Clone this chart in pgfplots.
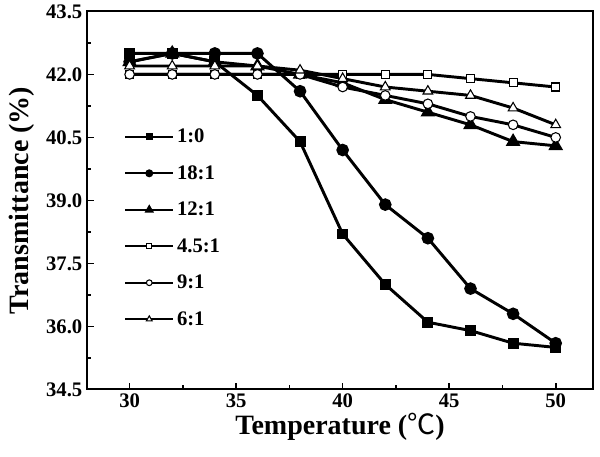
\documentclass[border=0pt]{standalone}
\usepackage{pgfplots}
\pgfplotsset{compat=1.18}
\usepackage{fontspec}
\setmainfont{Liberation Serif}
\newfontfamily\cjk{Noto Sans CJK SC}
\begin{document}
\begin{tikzpicture}
\begin{axis}[
  name=ax,
  scale only axis,
  width=379.5pt, height=283.5pt,
  xmin=28, xmax=51.75, ymin=34.5, ymax=43.5,
  xtick={30,35,...,50}, minor xtick={32.5,37.5,42.5,47.5},
  ytick={34.5,36,...,43.5}, minor ytick={35.25,36.75,38.25,39.75,41.25,42.75},
  yticklabel style={/pgf/number format/.cd,fixed,fixed zerofill,precision=1},
  /pgf/number format/assume math mode=true,
  tick label style={font=\fontsize{15.5}{17}\selectfont\bfseries},
  xtick pos=bottom, ytick pos=left, tick align=inside,
  major tick length=5pt, minor tick length=3pt,
  every tick/.style={line width=1.2pt,black},
  axis line style={line width=1.5pt},
  xlabel={\fontsize{21}{23}\selectfont\bfseries Temperature ({\cjk\mdseries ℃})},
  ylabel={\fontsize{21}{23}\selectfont\bfseries Transmittance (\%)},
  xlabel style={yshift=3pt},
  ylabel style={yshift=2pt},
  every axis plot/.append style={black, line width=2.2pt},
  legend style={draw=none, fill=none, at={(0.073,0.697)}, anchor=north west,
    font=\fontsize{15.5}{17}\selectfont\bfseries, row sep=11.6pt, inner sep=0pt,
    cells={anchor=west}},
  legend image code/.code={\draw[line width=1.6pt,mark repeat=2,mark phase=2,every mark/.append style={scale=0.6}] plot coordinates {(0pt,0pt) (18pt,0pt) (36pt,0pt)};},
]
\addplot[mark=square*, mark size=3pt, mark options={solid,fill=black}] coordinates {
(30,42.5)(32,42.5)(34,42.3)(36,41.5)(38,40.4)(40,38.2)(42,37.0)(44,36.1)(46,35.9)(48,35.6)(50,35.5)};
\addlegendentry{1:0}
\addplot[mark=*, mark size=3.6pt, mark options={solid,fill=black}] coordinates {
(30,42.3)(32,42.5)(34,42.5)(36,42.5)(38,41.6)(40,40.2)(42,38.9)(44,38.1)(46,36.9)(48,36.3)(50,35.6)};
\addlegendentry{18:1}
\addplot[mark=triangle*, mark size=4.2pt, mark options={solid,fill=black}] coordinates {
(30,42.3)(32,42.5)(34,42.3)(36,42.2)(38,42.0)(40,41.8)(42,41.4)(44,41.1)(46,40.8)(48,40.4)(50,40.3)};
\addlegendentry{12:1}
\addplot[mark=square*, mark size=3pt, mark options={solid,fill=white,line width=0.8pt}] coordinates {
(30,42.0)(32,42.0)(34,42.0)(36,42.0)(38,42.0)(40,42.0)(42,42.0)(44,42.0)(46,41.9)(48,41.8)(50,41.7)};
\addlegendentry{4.5:1}
\addplot[mark=*, mark size=3.6pt, mark options={solid,fill=white,line width=0.8pt}] coordinates {
(30,42.0)(32,42.0)(34,42.0)(36,42.0)(38,42.0)(40,41.7)(42,41.5)(44,41.3)(46,41.0)(48,40.8)(50,40.5)};
\addlegendentry{9:1}
\addplot[mark=triangle*, mark size=4.2pt, mark options={solid,fill=white,line width=0.8pt}] coordinates {
(30,42.2)(32,42.2)(34,42.2)(36,42.2)(38,42.1)(40,41.9)(42,41.7)(44,41.6)(46,41.5)(48,41.2)(50,40.8)};
\addlegendentry{6:1}
\end{axis}
\path[use as bounding box] ([shift={(-65.25pt,-50.25pt)}]ax.south west) rectangle ([shift={(5.25pt,7.5pt)}]ax.north east);
\end{tikzpicture}
\end{document}
